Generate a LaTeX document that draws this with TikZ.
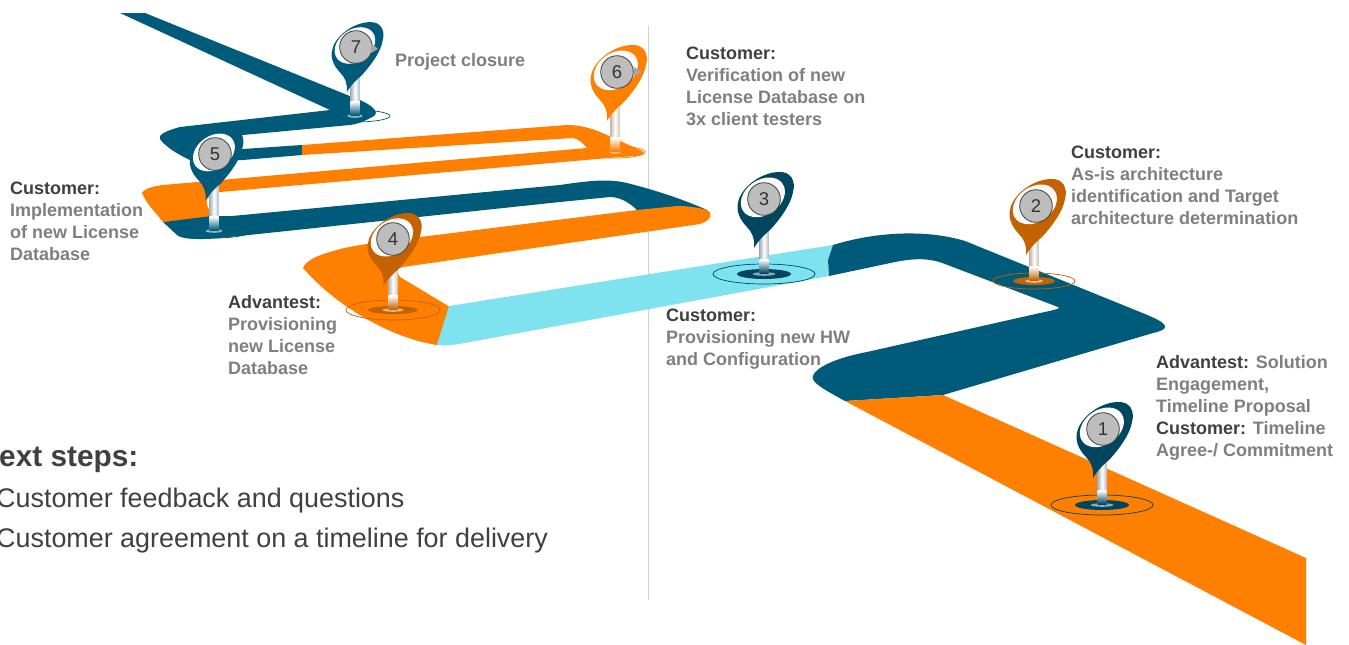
\documentclass[tikz,border=0pt]{standalone}
\usepackage{fontspec}
\setmainfont{Liberation Sans}
\definecolor{rdblue}{HTML}{005A7A}
\definecolor{rdorange}{HTML}{FF7F00}
\definecolor{rdcyan}{HTML}{7FE3EF}
\definecolor{pinnavy}{HTML}{00465F}
\definecolor{pinrust}{HTML}{C46200}
\definecolor{txtdark}{HTML}{404040}
\definecolor{txtgray}{HTML}{7F7F7F}
\definecolor{pincircle}{HTML}{BDBDBD}
\newcommand{\hd}[1]{{\bfseries\color{txtdark}#1}}
% base x, base y, ring rx, ring ry, inner rx, inner ry, head x, head y, scale, colour, number
\newcommand{\roadpin}[9]{%
  \def\bx{#1}\def\by{#2}\def\rrx{#3}\def\rry{#4}\def\irx{#5}\def\iry{#6}\def\hx{#7}\def\hy{#8}\def\hs{#9}\roadpinb}
\newcommand{\roadpinb}[2]{%
  \draw[#1,line width=.7pt] (\bx,\by) ellipse[x radius=\rrx,y radius=\rry];
  \fill[#1] (\bx,\by) ellipse[x radius=\irx,y radius=\iry];
  \fill[white!55!#1] (\bx,\by) ellipse[x radius=\irx*.42,y radius=1.8];
  \fill[left color=#1!30!gray!55,right color=#1!30!gray!45,middle color=white] (\bx-4.5,\hy+20) rectangle (\bx+4.5,\by-14);
  \fill[top color=white,bottom color=#1,shading angle=0] (\bx-4.5,\by-14.5) rectangle (\bx+4.5,\by-1);
  \begin{scope}[shift={(\hx,\hy)},scale=\hs]
    \fill[#1] (-10,49) .. controls (-9,40) and (-12,33) .. (-17,28)
      .. controls (-24,21) and (-28,12) .. (-26,4)
      .. controls (-24,-10) and (-5,-26) .. (14,-27)
      .. controls (27,-28) and (32,-18) .. (29,-7)
      .. controls (27,5) and (17,19) .. (6,31)
      .. controls (0,36) and (-6,42) .. (-10,49) -- cycle;
    \fill[white!96!gray,rotate=35] (0,-2) ellipse[x radius=24,y radius=17.5];
  \end{scope}
  \filldraw[fill=pincircle,draw=black!75,line width=.8pt] (\hx,\hy) circle[radius=16.3];
  \node[pinnum] (pin#2) at (\hx,\hy) {#2};
}
\tikzset{
  pinnum/.style={inner sep=0pt,font=\fontsize{18.5}{18}\selectfont,text=black!80},
  note/.style={anchor=north west,inner sep=0pt,align=left,text=txtgray,font=\fontsize{18}{22}\selectfont\bfseries},
  steps/.style={anchor=west,inner sep=0pt,text=txtdark,font=\fontsize{26.9}{30}\selectfont},
  tick/.style={fill=gray!70},
}
\begin{document}
\begin{tikzpicture}[x=1pt,y=-1pt]
\useasboundingbox (0,0) rectangle (1349,645);
\fill[white] (0,0) rectangle (1349,645);
\draw[black!18,line width=.9pt] (648.5,26) -- (648.5,600);
% upper blue
\fill[rdblue] (120,13) -- (145,13) -- (362,101) .. controls (375,107) and (380,114) .. (372,117)
  .. controls (365,121) and (358,124) .. (350,125) -- (243,135) -- (215,137) -- (215,152) -- (243,149) -- (302,145) -- (302,155) -- (243,160) -- (190,160)
  .. controls (175,153) and (165,146) .. (160,139) .. controls (158,135) and (165,131) .. (180,127)
  -- (330,110) -- cycle;
% orange long arms
\fill[rdorange] (302,145) -- (567,125) .. controls (580,125) and (590,128) .. (600,132) -- (640,150)
  .. controls (650,155) and (640,156) .. (620,157) -- (220,192) .. controls (212,193) and (205,196) .. (207,205)
  -- (212,217) -- (163,222) .. controls (155,212) and (146,203) .. (142,193)
  .. controls (145,188) and (155,186) .. (163,185) -- (587,148) .. controls (582,142) and (578,139) .. (573,138) -- (302,155) -- cycle;
% blue lower arm
\fill[rdblue] (163,222) -- (212,216) -- (232,216) -- (560,185) .. controls (593,180) and (610,179) .. (627,183)
  .. controls (655,190) and (685,200) .. (707,210) -- (637,210) .. controls (630,203) and (620,197) .. (610,197)
  -- (560,202) -- (230,237) .. controls (205,240) and (182,240) .. (177,235) -- cycle;
% orange fourth segment
\fill[rdorange] (437,345) .. controls (390,338) and (335,305) .. (303,268) .. controls (305,262) and (315,256) .. (330,252)
  .. controls (345,247) and (360,245) .. (380,242) -- (637,210) -- (677,206) .. controls (690,206) and (700,208) .. (707,210)
  .. controls (713,213) and (712,220) .. (700,224) -- (403,267) .. controls (398,268) and (395,270) .. (400,277) -- (450,307) -- cycle;
% cyan
\fill[rdcyan] (449,306) -- (833,245) -- (828,260) -- (829,276) -- (470,342) .. controls (455,345) and (445,346) .. (437,345) -- cycle;
% blue section
\fill[rdblue] (833,245) .. controls (875,232) and (925,229) .. (965,241) -- (1140,312)
  .. controls (1165,322) and (1175,328) .. (1153,333) -- (943,395) -- (845,401)
  .. controls (825,390) and (810,382) .. (813,376) .. controls (815,368) and (835,358) .. (867,352)
  -- (1040,313) .. controls (1055,310) and (1062,308) .. (1058,307) -- (945,264)
  .. controls (930,258) and (915,258) .. (895,262) -- (829,276) -- (828,260) -- cycle;
% orange start
\fill[rdorange] (845,401) -- (943,395) -- (1306,558) -- (1306,645) -- cycle;
% pins
\roadpin{1102}{505}{51}{10}{27}{5}{1103}{429}{1}{pinnavy}{1}
\roadpin{1034}{281}{41}{8}{21}{4}{1036}{206}{1}{pinrust}{2}
\roadpin{764}{274}{51}{10}{27}{5}{764}{199}{1}{pinnavy}{3}
\roadpin{393}{310}{47}{10}{25}{4}{393}{239}{.96}{pinrust}{4}
\roadpin{214}{231}{37}{7}{20}{4}{215}{154}{.95}{rdblue}{5}
\roadpin{615}{152}{30}{6}{14}{3}{617}{72}{1}{rdorange}{6}
\roadpin{355}{116}{35}{6}{18}{3}{356}{47}{.92}{rdblue}{7}
\fill[tick] (634,67) -- (642,72) -- (634,76) -- cycle;
\fill[tick] (372,44) -- (378,49) -- (371,53) -- cycle;
% texts
\node[note] (t7) at (395,53.5) {Project closure};
\node[note] (t6) at (686,47) {\hd{Customer:}\\Verification of new\\License Database on\\3x client testers};
\node[note] (t2) at (1071,146) {\hd{Customer:}\\As-is architecture\\identification and Target\\architecture determination};
\node[note] (t1) at (1156,355.5) {\hd{Advantest:} Solution\\Engagement,\\Timeline Proposal\\\hd{Customer:} Timeline\\Agree-/ Commitment};
\node[note] (t3) at (666,309) {\hd{Customer:}\\Provisioning new HW\\and Configuration};
\node[note] (t4) at (228,295) {\hd{Advantest:}\\Provisioning\\new License\\Database};
\node[note] (t5) at (10,182) {\hd{Customer:}\\Implementation\\of new License\\Database};
\node[steps,font=\fontsize{29.8}{32}\selectfont\bfseries] (s0) at (-1,460) {ext steps:};
\node[steps] (s1) at (-4,501) {Customer feedback and questions};
\node[steps] (s2) at (-4,541) {Customer agreement on a timeline for delivery};
\end{tikzpicture}
\end{document}
